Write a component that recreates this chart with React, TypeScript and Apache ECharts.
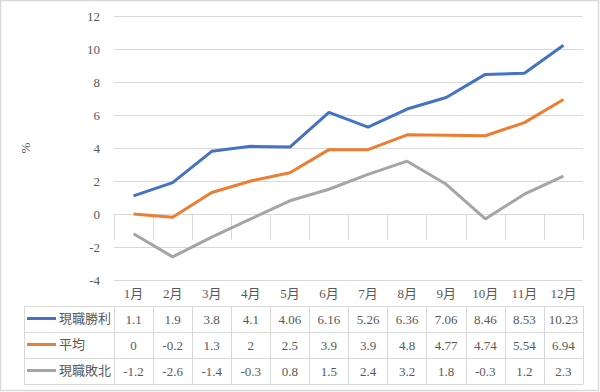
import React, { useEffect, useRef } from "react";
import * as echarts from "echarts";

const months = ["1月", "2月", "3月", "4月", "5月", "6月", "7月", "8月", "9月", "10月", "11月", "12月"];
const seriesNames = ["現職勝利", "平均", "現職敗北"];
const winValues = [1.1, 1.9, 3.8, 4.1, 4.06, 6.16, 5.26, 6.36, 7.06, 8.46, 8.53, 10.23];
const avgValues = [0, -0.2, 1.3, 2, 2.5, 3.9, 3.9, 4.8, 4.77, 4.74, 5.54, 6.94];
const loseValues = [-1.2, -2.6, -1.4, -0.3, 0.8, 1.5, 2.4, 3.2, 1.8, -0.3, 1.2, 2.3];
const colors = ["#4472C4", "#ED7D31", "#A5A5A5"];
const yTicks = { min: -4, max: 12, interval: 2 };

const W = 600;
const H = 392;
const GRID_LEFT = 114;
const GRID_RIGHT = 17;
const GRID_TOP = 16;
const GRID_BOTTOM = 112;
const ROW = 26;
const TABLE_LEFT = 24;
const LINE_COLOR = "#D9D9D9";
const TEXT_COLOR = "#595959";
const FONT = "'Liberation Serif', 'Noto Sans CJK JP', serif";

export default function App() {
  const ref = useRef<HTMLDivElement>(null);
  useEffect(() => {
    if (!ref.current) return;
    const chart = echarts.init(ref.current, undefined, { renderer: "svg", width: W, height: H });
    const allValues = [winValues, avgValues, loseValues];
    const axisBottom = H - GRID_BOTTOM;

    const xAxes: any[] = [];
    for (let r = 0; r < 5; r++) {
      xAxes.push({
        type: "category",
        gridIndex: 0,
        position: "bottom",
        offset: r * ROW,
        data: months,
        boundaryGap: true,
        axisLine: { show: true, lineStyle: { color: LINE_COLOR, width: 1 } },
        axisTick: { show: r < 4, interval: 0, length: ROW, lineStyle: { color: LINE_COLOR, width: 1 } },
        axisLabel: {
          show: r < 4,
          interval: 0,
          margin: 13,
          verticalAlign: "middle",
          color: TEXT_COLOR,
          fontSize: 13,
          fontFamily: FONT,
          formatter: (v: string, i: number) => (r === 0 ? v : String(allValues[r - 1][i])),
        },
        splitLine: { show: false },
      });
    }

    const legends = seriesNames.map((name, i) => ({
      data: [name],
      orient: "horizontal",
      left: TABLE_LEFT + 3,
      top: axisBottom + ROW * (i + 1) + ROW / 2 - 7,
      icon: "rect",
      itemWidth: 29,
      itemHeight: 3,
      itemGap: 4,
      padding: 0,
      selectedMode: false,
      textStyle: { color: TEXT_COLOR, fontSize: 13, fontFamily: FONT, padding: [0, 0, 0, -2] },
    }));

    const g: any[] = [];
    const lineStyle = { stroke: LINE_COLOR, lineWidth: 1 };
    for (let i = 1; i <= 4; i++) {
      const y = axisBottom + ROW * i;
      g.push({ type: "line", shape: { x1: TABLE_LEFT, y1: y + 0.5, x2: GRID_LEFT, y2: y + 0.5 }, style: lineStyle, silent: true });
    }
    g.push({ type: "line", shape: { x1: TABLE_LEFT + 0.5, y1: axisBottom + ROW, x2: TABLE_LEFT + 0.5, y2: axisBottom + ROW * 4 }, style: lineStyle, silent: true });
    g.push({ type: "rect", shape: { x: 0.5, y: 0.5, width: W - 2, height: H - 2 }, style: { fill: "none", stroke: LINE_COLOR, lineWidth: 1.5 }, silent: true });

    chart.setOption({
      animation: false,
      backgroundColor: "#ffffff",
      color: colors,
      grid: { left: GRID_LEFT, right: GRID_RIGHT, top: GRID_TOP, bottom: GRID_BOTTOM, containLabel: false },
      legend: legends,
      xAxis: xAxes,
      yAxis: {
        type: "value",
        min: yTicks.min,
        max: yTicks.max,
        interval: yTicks.interval,
        name: "%",
        nameLocation: "middle",
        nameGap: 82,
        nameTextStyle: { color: TEXT_COLOR, fontSize: 13, fontFamily: FONT },
        axisLine: { show: false },
        axisTick: { show: false },
        axisLabel: { color: TEXT_COLOR, fontSize: 13, fontFamily: FONT, margin: 14 },
        splitLine: { lineStyle: { color: LINE_COLOR, width: 1 } },
      },
      series: allValues.map((vals, i) => ({
        name: seriesNames[i],
        type: "line",
        xAxisIndex: 0,
        data: vals,
        showSymbol: false,
        symbol: "none",
        lineStyle: { width: 3, color: colors[i] },
        itemStyle: { color: colors[i] },
        z: 10 - i,
      })),
      graphic: g,
    });
    return () => chart.dispose();
  }, []);
  return <div ref={ref} style={{ position: "fixed", left: 0, top: 0, width: W, height: H, background: "#fff" }} />;
}
